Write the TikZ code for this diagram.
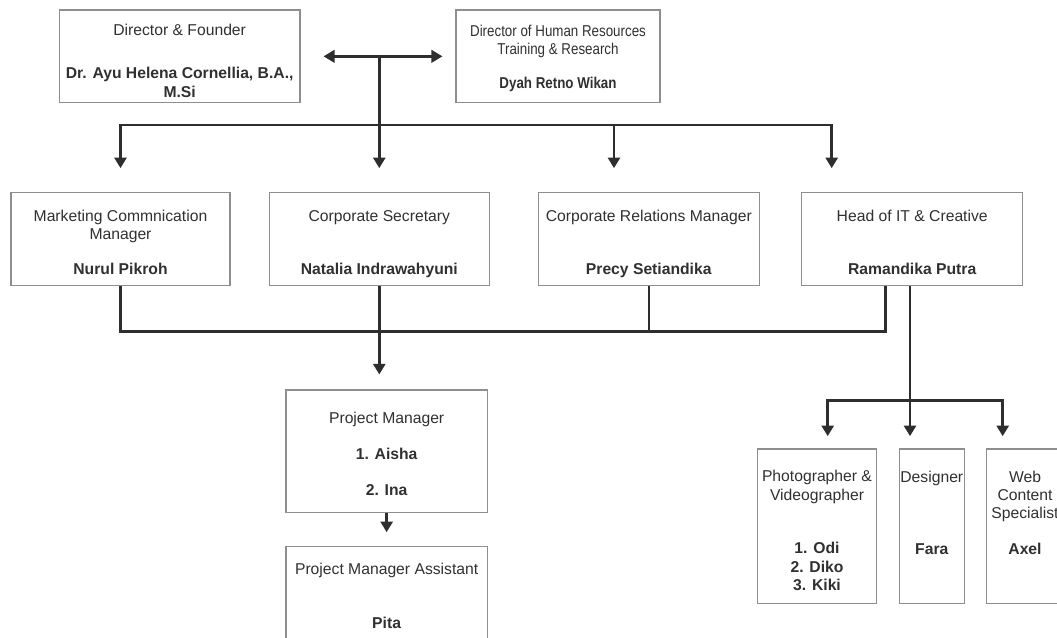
\documentclass[tikz,border=0pt]{standalone}
\usepackage{fontspec}
\setmainfont{Liberation Sans}
\newfontfamily\narrowsans{Liberation Sans}[FakeStretch=0.85]
\usetikzlibrary{arrows.meta}
\definecolor{boxgray}{HTML}{8E8E8E}
\definecolor{linegray}{HTML}{2E2E2E}
\definecolor{inkgray}{HTML}{303030}
\newcommand{\lift}[1]{\rule{0pt}{#1pt}}
\newcommand{\sink}[1]{\rule[-#1pt]{0pt}{#1pt}}

\begin{document}
\begin{tikzpicture}[x=1pt,y=-1pt,
  unit/.style={draw=boxgray,line width=1.1pt,inner sep=0pt,align=center,text=inkgray,
    font=\fontsize{15.7}{18.3}\selectfont},
  con/.style={draw=linegray,line width=2.5pt},
  arr/.style={con,-{Triangle[width=12pt,length=10.5pt]}},
  dbl/.style={con,{Triangle[width=12.5pt,length=11pt]}-{Triangle[width=12.5pt,length=11pt]}}]
  \useasboundingbox (0,0) rectangle (1057,637);
  \clip (0,0) rectangle (1057,637);

  \node[unit,minimum width=240.7pt,minimum height=92.7pt] (dir) at (179.65,56.35)
    {\lift{20.6}Director \& Founder\\[24.7pt]\textbf{Dr. Ayu Helena Cornellia, B.A.,}\\\textbf{M.Si}};
  \node[unit,font=\narrowsans\fontsize{15.7}{18.3}\selectfont,minimum width=204pt,minimum height=92.7pt] (hrd) at (558,56.35)
    {\lift{15.1}Director of Human Resources\\Training \& Research\\[15.9pt]\textbf{Dyah Retno Wikan}};

  \node[unit,minimum width=219pt,minimum height=93pt] (mkt) at (120.5,239.2)
    {\lift{17.4}Marketing Commnication\\Manager\\[16.2pt]\textbf{Nurul Pikroh}};
  \node[unit,minimum width=220pt,minimum height=93pt] (csec) at (379.3,239.2)
    {\lift{20.7}Corporate Secretary\\[34.5pt]\textbf{Natalia Indrawahyuni}};
  \node[unit,minimum width=221pt,minimum height=93pt] (crm) at (648.8,239.2)
    {\lift{20.7}Corporate Relations Manager\\[34.5pt]\textbf{Precy Setiandika}};
  \node[unit,minimum width=221pt,minimum height=93pt] (hit) at (912.2,239.2)
    {\lift{17.4}Head of IT \& Creative\\[34.5pt]\textbf{Ramandika Putra}};

  \node[unit,minimum width=201.3pt,minimum height=122.7pt] (pm) at (386.65,451.35)
    {\lift{16.5}Project Manager\\[17.2pt]\textbf{1. Aisha}\\[17.4pt]\textbf{2. Ina}};
  \node[unit,minimum width=201.3pt,minimum height=97.3pt] (pma) at (386.65,595.35)
    {\lift{12}Project Manager Assistant\\[35.2pt]\textbf{Pita}};

  \node[unit,minimum width=119.4pt,minimum height=154.3pt] (pho) at (817,526.15)
    {\lift{20.3}Photographer \&\\Videographer\\[35.4pt]\textbf{1. Odi}\\\textbf{2. Diko}\\\textbf{3. Kiki}};
  \node[unit,minimum width=65pt,minimum height=154.3pt] (des) at (931.8,526.15)
    {\lift{12}Designer\\[53.7pt]\textbf{Fara}\sink{28.3}};
  \node[unit,minimum width=76.6pt,minimum height=154.3pt] (web) at (1025,526.15)
    {\lift{12}Web\\Content\\Specialist\\[17.1pt]\textbf{Axel}\sink{28.3}};

  \draw[dbl,shorten <=23pt,shorten >=13pt] (dir.east) -- (hrd.west);
  \coordinate (hub) at (379.3,56.35);
  \coordinate (bus) at (379.3,125);
  \draw[arr,shorten >=24pt] (hub) -- (csec.north);
  \draw[arr,shorten >=24pt] (bus) -| (mkt.north);
  \draw[arr,shorten >=24pt] (bus) -| ([xshift=-34.8pt]crm.north);
  \draw[arr,shorten >=24pt] (bus) -| ([xshift=-80.5pt]hit.north);

  \coordinate (low) at (379.3,331.7);
  \draw[con] (mkt.south) |- (low);
  \draw[con] ([xshift=-26.5pt]hit.south) |- (low);
  \draw[con] (crm.south) -- (crm.south |- low);
  \draw[arr,shorten >=15pt] (csec.south) -- (csec.south |- pm.north);
  \draw[arr,shorten >=14pt] (pm.south) -- (pma.north);

  \coordinate (sub) at (910,400.7);
  \draw[con] ([xshift=-2.2pt]hit.south) -- (sub);
  \draw[arr,shorten >=12.3pt] (sub) -| ([xshift=10.7pt]pho.north);
  \draw[arr,shorten >=12.3pt] (sub) -- (sub |- des.north);
  \draw[arr,shorten >=12.3pt] (sub) -| ([xshift=-22.3pt]web.north);
\end{tikzpicture}
\end{document}
